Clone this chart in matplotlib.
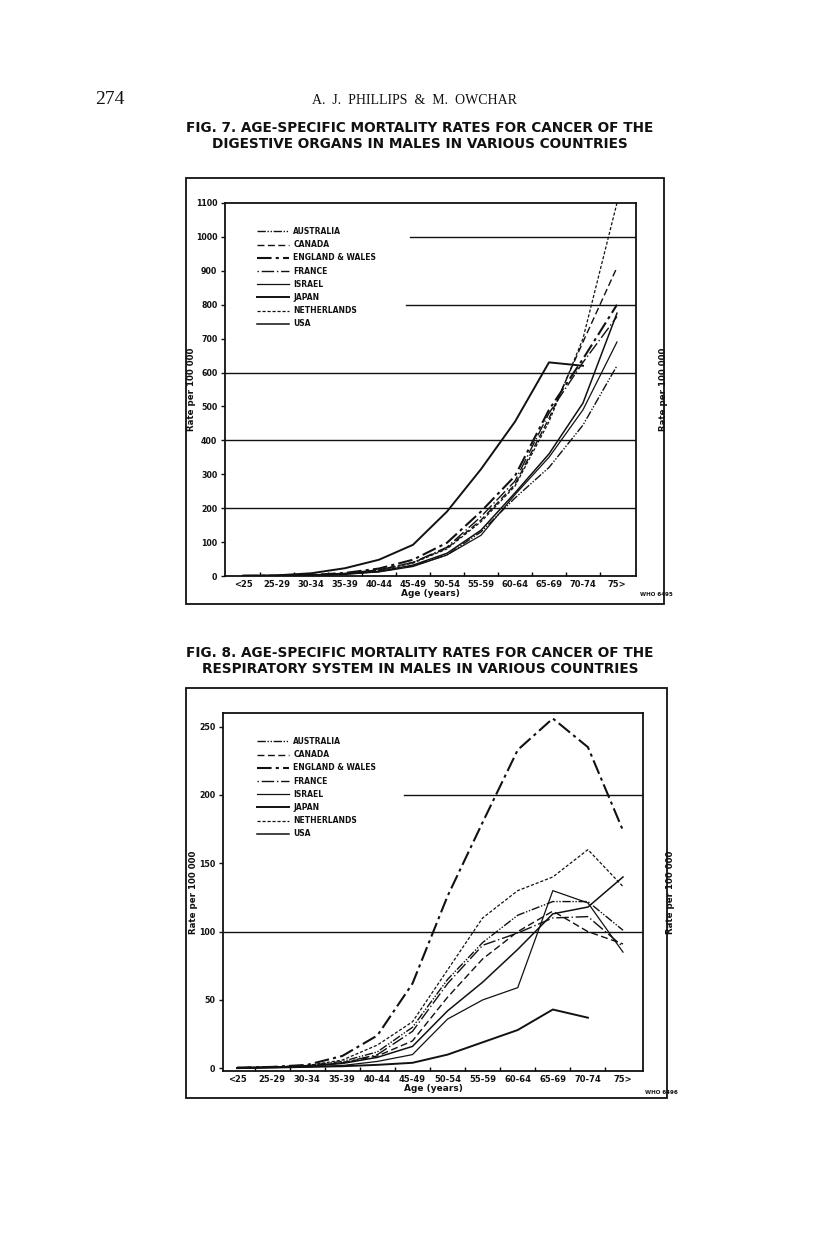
import numpy as np
import matplotlib
matplotlib.use("Agg")
import matplotlib.pyplot as plt
from matplotlib.patches import Rectangle

# age groups (x axis)
ages = ['<25', '25-29', '30-34', '35-39', '40-44', '45-49', '50-54',
        '55-59', '60-64', '65-69', '70-74', '75>']
countries = ['AUSTRALIA', 'CANADA', 'ENGLAND & WALES', 'FRANCE',
             'ISRAEL', 'JAPAN', 'NETHERLANDS', 'USA']

# Fig. 7 - digestive organs, rate per 100 000
dig_australia = [0.5, 1, 2, 5, 13, 30, 62, 130, 230, 320, 445, 620]
dig_canada = [0.5, 1, 3, 8, 18, 40, 82, 165, 270, 465, 690, 910]
dig_england = [0.5, 1, 3, 9, 22, 48, 98, 190, 295, 490, 640, 800]
dig_france = [0.5, 1, 3, 8, 18, 40, 85, 175, 280, 480, 630, 765]
dig_israel = [0.5, 1, 2, 5, 12, 28, 62, 120, 240, 350, 490, 690]
dig_japan = [1, 2, 8, 23, 48, 92, 190, 315, 455, 630, 620, np.nan]
dig_netherlands = [0.5, 1, 3, 7, 17, 38, 80, 160, 265, 455, 700, 1100]
dig_usa = [0.5, 1, 2, 6, 14, 32, 67, 135, 245, 360, 510, 775]

# Fig. 8 - respiratory system, rate per 100 000
resp_australia = [0.3, 0.8, 2, 5, 12, 30, 65, 92, 112, 122, 122, 101]
resp_canada = [0.3, 0.8, 1.5, 4, 9, 20, 52, 80, 100, 115, 100, 91]
resp_england = [0.5, 1, 2.5, 9, 24, 62, 126, 180, 233, 256, 235, 174]
resp_france = [0.3, 0.8, 1.5, 4, 10, 27, 62, 90, 99, 110, 111, 89]
resp_israel = [0.2, 0.5, 1, 2, 5, 10, 36, 50, 59, 130, 121, 85]
resp_japan = [0.1, 0.5, 1, 1.5, 2.5, 4, 10, 19, 28, 43, 37, np.nan]
resp_netherlands = [0.3, 1, 2, 6, 17, 34, 72, 110, 130, 140, 160, 133]
resp_usa = [0.3, 0.8, 1.5, 3.5, 8, 16, 42, 63, 87, 113, 118, 140]

dig = [dig_australia, dig_canada, dig_england, dig_france,
       dig_israel, dig_japan, dig_netherlands, dig_usa]
resp = [resp_australia, resp_canada, resp_england, resp_france,
        resp_israel, resp_japan, resp_netherlands, resp_usa]

# line style per country: (dashes, width)
styles = [((0, (6, 1.2, 1, 1.2, 1, 1.2)), 1.0),
          ((0, (5, 2.5)), 1.0),
          ((0, (7, 2, 1.5, 2)), 1.5),
          ((0, (1, 2, 9, 2)), 1.0),
          ('-', 0.9),
          ('-', 1.4),
          ((0, (2.5, 1.5)), 0.9),
          ('-', 1.1)]

ink = '#111111'
W, H = 816, 1244
fig = plt.figure(figsize=(W / 100, H / 100), dpi=100)


def fx(px):
    return px / W


def fy(py):
    return 1 - py / H


# page header
fig.text(fx(95), fy(100), '274', family='Liberation Serif', fontsize=14,
         color=ink, va='center', ha='left')
fig.text(fx(415), fy(100), 'A.  J.  PHILLIPS  &  M.  OWCHAR',
         family='Liberation Serif', fontsize=10, color=ink,
         va='center', ha='center')


def panel(title, data, ylim, yticks, box, axpos, xlim, grid_full,
          grid_part, legend_top, who, ylab_x):
    # caption
    fig.text(fx(420), fy(title[2]), title[0], fontsize=9.8, weight='bold',
             color=ink, ha='center', va='center')
    fig.text(fx(420), fy(title[2] + 16), title[1], fontsize=9.8,
             weight='bold', color=ink, ha='center', va='center')
    # outer frame
    x0, y0, x1, y1 = box
    fig.patches.append(Rectangle((fx(x0), fy(y1)), fx(x1) - fx(x0),
                                 fy(y0) - fy(y1), transform=fig.transFigure,
                                 fill=False, lw=1.3, ec=ink))
    l, t, r, b = axpos
    ax = fig.add_axes([fx(l), fy(b), fx(r) - fx(l), fy(t) - fy(b)])
    x = np.arange(len(ages))
    handles = []
    for name, vals, (ls, lw) in zip(countries, data, styles):
        ln, = ax.plot(x, vals, color=ink, ls=ls, lw=lw, label=name)
        handles.append(ln)
    for g in grid_full:
        ax.axhline(g, color=ink, lw=1.0, zorder=0)
    for g, start in grid_part:
        ax.axhline(g, xmin=start, xmax=1, color=ink, lw=1.0, zorder=0)
    ax.set_xlim(*xlim)
    ax.set_ylim(*ylim)
    ax.set_yticks(yticks)
    ax.set_yticklabels([str(v) for v in yticks], fontsize=5.7,
                       weight='bold', color=ink)
    ax.tick_params(axis='y', which='both', left=True, right=True,
                   labelleft=True, labelright=True, length=3, width=1,
                   direction='out', pad=2.5, colors=ink)
    ax.set_xticks(x)
    ax.set_xticklabels(ages, fontsize=6, weight='bold', color=ink)
    ax.tick_params(axis='x', which='major', length=0, pad=3)
    ax.set_xticks(x[:-1] + 0.5, minor=True)
    ax.tick_params(axis='x', which='minor', length=3, width=1,
                   direction='in', bottom=True, top=False)
    for s in ax.spines.values():
        s.set_linewidth(1.3)
        s.set_color(ink)
    ax.set_xlabel('Age (years)', fontsize=6.5, weight='bold', color=ink,
                  labelpad=0)
    aw = r - l
    ax.set_ylabel('Rate per 100 000', fontsize=6.2, weight='bold',
                  color=ink)
    ax.yaxis.set_label_coords((ylab_x[0] - l) / aw, 0.5)
    ax2 = ax.twinx()
    ax2.set_ylim(*ylim)
    ax2.set_yticks([])
    ax2.set_ylabel('Rate per 100 000', fontsize=6.2, weight='bold',
                   color=ink, rotation=90)
    ax2.yaxis.set_label_position('right')
    ax2.yaxis.set_label_coords((ylab_x[1] - l) / aw, 0.5)
    for s in ax2.spines.values():
        s.set_visible(False)
    leg = ax.legend(handles=handles, loc='upper left',
                    bbox_to_anchor=(fx(257), fy(legend_top)),
                    bbox_transform=fig.transFigure, frameon=False,
                    fontsize=5.5, handlelength=4.2, handletextpad=0.55,
                    labelspacing=0.55, borderpad=0, borderaxespad=0)
    for txt in leg.get_texts():
        txt.set_weight('bold')
        txt.set_color(ink)
    fig.text(fx(who[0]), fy(who[1]), who[2], fontsize=4, weight='bold',
             color=ink, ha='left', va='center')
    return ax


panel(('FIG. 7. AGE-SPECIFIC MORTALITY RATES FOR CANCER OF THE',
       'DIGESTIVE ORGANS IN MALES IN VARIOUS COUNTRIES', 128),
      dig, (0, 1100), list(range(0, 1101, 100)),
      (186, 178, 664, 604), (225, 203, 636, 576), (-0.53, 11.56),
      [200, 400, 600], [(800, 0.44), (1000, 0.45)], 227,
      (640, 595, 'WHO 6495'), (196, 659))

panel(('FIG. 8. AGE-SPECIFIC MORTALITY RATES FOR CANCER OF THE',
       'RESPIRATORY SYSTEM IN MALES IN VARIOUS COUNTRIES', 653),
      resp, (-2, 260), [0, 50, 100, 150, 200, 250],
      (186, 688, 667, 1098), (223, 713, 643, 1071), (-0.4, 11.57),
      [100], [(200, 0.43)], 737,
      (645, 1092, 'WHO 6496'), (198, 666))

fig.savefig('out.png', dpi=100)
